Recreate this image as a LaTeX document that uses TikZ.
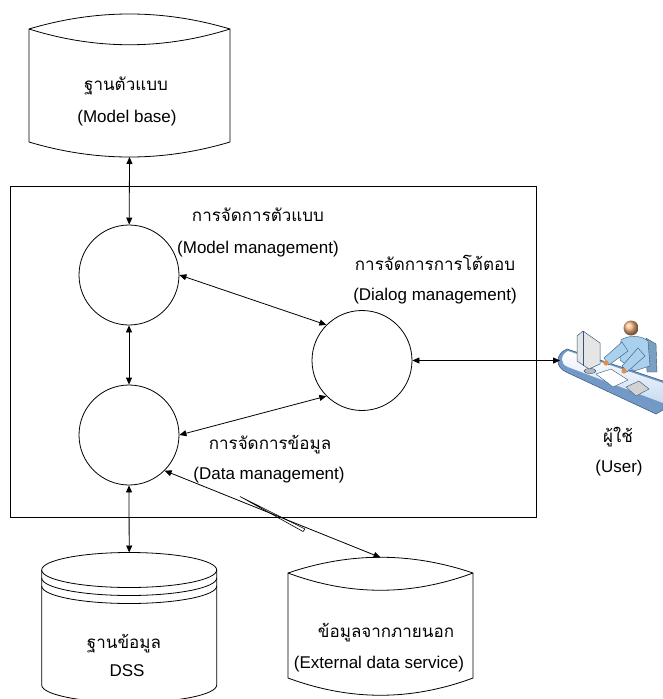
\documentclass[tikz,border=0pt]{standalone}
\usepackage{fontspec}
\setmainfont{Liberation Sans}
\newfontfamily\thaifont[Script=Thai]{Loma}
\usepackage{tikz}
\usetikzlibrary{arrows.meta}

\definecolor{deskrim}{HTML}{7399C6}
\definecolor{desktop}{HTML}{C9DCF0}
\definecolor{shirt}{HTML}{A9D0EC}
\definecolor{skin}{HTML}{F2B27E}
\definecolor{hand}{HTML}{E98E45}
\definecolor{edge}{HTML}{34567E}

\begin{document}
\begin{tikzpicture}[x=1pt, y=-1pt, line width=0.8pt,
    proc/.style={draw, circle, minimum size=100pt, inner sep=0pt},
    link/.style={{Triangle[length=7pt,width=6pt]}-{Triangle[length=7pt,width=6pt]}},
    en/.style={anchor=base, inner sep=0pt, font=\fontsize{17}{20}\selectfont},
    th/.style={anchor=base, inner sep=0pt, font=\thaifont\fontsize{17}{20}\selectfont}]
  \useasboundingbox (0,0) rectangle (663,699);

  % model base
  \draw (29,29) .. controls (96,9) and (163,9) .. (230,29) -- (230,142)
     .. controls (163,162) and (96,162) .. (29,142) -- cycle;
  \draw (29,29) .. controls (96,50) and (163,50) .. (230,29);
  \coordinate (mbase) at (129.5,157);
  \node[th] (mbaseth) at (126,90.5) {ฐานตัวแบบ};
  \node[en] (mbaseen) at (127,122) {(Model base)};

  % the DSS itself
  \node[draw, minimum width=526pt, minimum height=331pt, inner sep=0pt] (sys) at (273,351.5) {};
  \node[proc] (mmodel) at (129,275) {};
  \node[proc] (mdata) at (129,435) {};
  \node[proc] (mdialog) at (362,360.5) {};

  \node[th] (mmodelth) at (258,221.5) {การจัดการตัวแบบ};
  \node[en] (mmodelen) at (258,253) {(Model management)};
  \node[th] (mdialogth) at (435,270.5) {การจัดการการโต้ตอบ};
  \node[en] (mdialogen) at (435,300.5) {(Dialog management)};
  \node[th] (mdatath) at (270,449) {การจัดการข้อมูล};
  \node[en] (mdataen) at (269,479) {(Data management)};

  % database
  \draw (41.7,570) -- (41.7,685) arc[start angle=180, end angle=0, x radius=87.5, y radius=17.5] -- (216.7,570);
  \draw (129.2,570) ellipse[x radius=87.5, y radius=17.5];
  \draw (41.7,578) arc[start angle=180, end angle=0, x radius=87.5, y radius=17.5];
  \draw (41.7,586) arc[start angle=180, end angle=0, x radius=87.5, y radius=17.5];
  \coordinate (dbase) at (129.2,552.5);
  \node[th] (dbaseth) at (124,648) {ฐานข้อมูล};
  \node[en] (dbaseen) at (127,676.5) {DSS};

  % external data
  \draw (288,573) .. controls (350,552) and (411,552) .. (473,573) -- (473,678)
     .. controls (411,701) and (350,701) .. (288,678) -- cycle;
  \draw (288,573) .. controls (350,596) and (411,596) .. (473,573);
  \coordinate (extdata) at (380.5,557.5);
  \node[th] (extth) at (386,637) {ข้อมูลจากภายนอก};
  \node[en] (exten) at (379,668) {(External data service)};

  % user at a desk
  \fill[deskrim, draw=edge, line width=0.5pt] (567,349) -- (663,381) -- (663,410) -- (656,414)
     -- (566,372) .. controls (555,367) and (555,354) .. cycle;
  \shade[top color=white, bottom color=desktop] (568,351) -- (663,383) -- (663,403)
     -- (568,367) .. controls (560,364) and (560,355) .. cycle;
  \fill[gray!55, draw=edge, line width=0.4pt] (590,371) ellipse[x radius=6, y radius=2.5];
  \fill[gray!20, draw=edge, line width=0.5pt] (577,336) -- (583,331) -- (600,343) -- (600,364)
     -- (589,369) -- (577,361) -- cycle;
  \draw[edge, line width=0.4pt] (583,331) -- (583,366);
  \fill[shirt!60!edge, draw=edge, line width=0.4pt] (646,338) -- (656,344) -- (657,372) -- (647,372) -- cycle;
  \fill[shirt, draw=edge, line width=0.4pt] (621,340) .. controls (628,335) and (641,335) .. (648,341)
     -- (650,366) -- (634,371) -- (620,360) -- cycle;
  \fill[shirt, draw=edge, line width=0.4pt] (622,342) -- (604,358) -- (609,365) -- (628,351) -- cycle;
  \fill[shirt, draw=edge, line width=0.4pt] (638,348) -- (622,366) -- (627,372) -- (645,356) -- cycle;
  \fill[hand] (606,363) circle (2.6);
  \fill[hand] (624,371) circle (2.6);
  \shade[ball color=skin] (631,328) circle (7.5);
  \fill[white, draw=edge, line width=0.4pt] (596,374) -- (611,369) -- (628,380) -- (613,387) -- cycle;
  \fill[gray!35, draw=edge, line width=0.4pt] (626,387) -- (639,381) -- (649,389) -- (636,396) -- cycle;
  \coordinate (user) at (560,360.5);
  \node[th] (userth) at (618,442.5) {ผู้ใช้};
  \node[en] (useren) at (619,472.5) {(User)};

  % links
  \draw[link] (mbase) -- (mmodel);
  \draw[link] (mmodel) -- (mdata);
  \draw[link] (mmodel.east) -- (mdialog.135);
  \draw[link] (mdata.east) -- (mdialog.225);
  \draw[link] (mdialog.east) -- (user);
  \draw[link] (mdata.south) -- (dbase);
  \draw[link] (mdata.-45) -- (extdata);
  \draw[line width=0.6pt] (240,496.5) -- (305,529) -- (303,531.5) -- cycle;
\end{tikzpicture}
\end{document}
